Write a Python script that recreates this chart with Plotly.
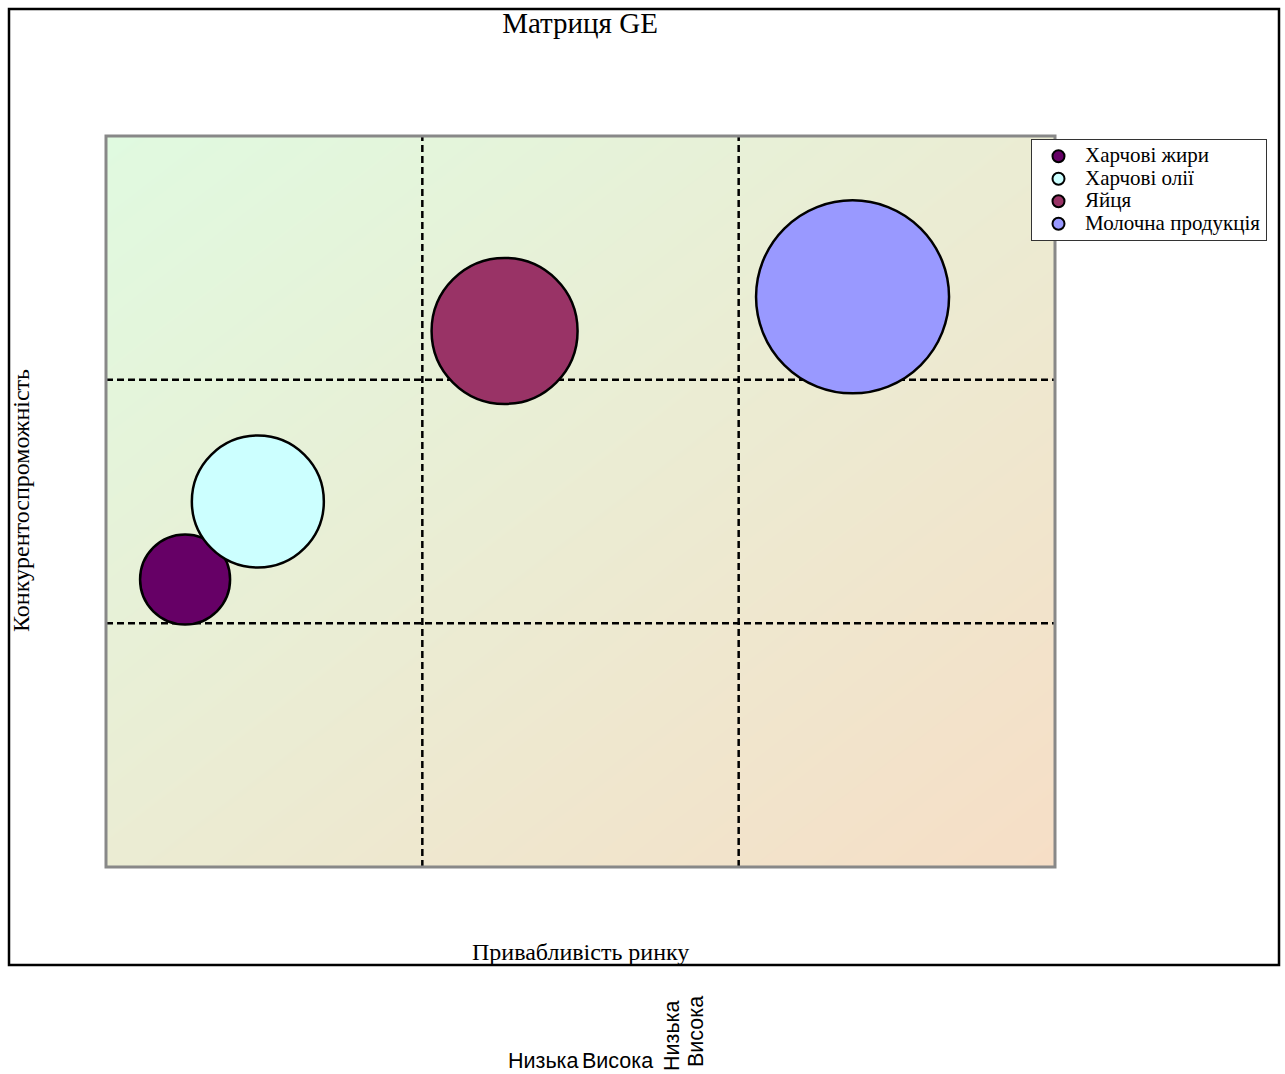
import numpy as np
import plotly.graph_objects as go

# ---- data -----------------------------------------------------------------
products = ["Харчові жири", "Харчові олії", "Яйця", "Молочна продукція"]
market_attractiveness = [0.25, 0.48, 1.26, 2.36]   # x: привабливість ринку
competitiveness = [1.18, 1.50, 2.20, 2.34]         # y: конкурентоспроможність
volume = [9.0, 13.2, 14.6, 19.3]                   # bubble size
colors = ["#660066", "#CCFFFF", "#993366", "#9999FF"]
level_labels = ["Низька", "Висока"]

# ---- page geometry (px) ---------------------------------------------------
W, H = 1285, 1074
L, R, T, B = 106, 230, 136, 207
PW, PH = W - L - R, H - T - B


def px_x(px):
    return (px - L) / PW


def px_y(py):
    return (H - B - py) / PH


fig = go.Figure()

# diagonal gradient background of the matrix
n = 41
gx = np.linspace(0, 3, n)
gy = np.linspace(0, 3, n)
gz = (gx[None, :] + (3 - gy[:, None])) / 6.0
fig.add_trace(go.Heatmap(
    x=gx, y=gy, z=gz, zmin=0, zmax=1, zsmooth="best",
    colorscale=[[0, "#E0FAE0"], [1, "#F6DEC6"]],
    showscale=False, hoverinfo="skip",
))

# dashed dividers of the 3x3 grid
grid_line = dict(color="black", width=2.5, dash="7px,4px")
for v in (1, 2):
    fig.add_trace(go.Scatter(x=[v, v], y=[0, 3], mode="lines", line=grid_line,
                             showlegend=False, hoverinfo="skip"))
    fig.add_trace(go.Scatter(x=[0, 3], y=[v, v], mode="lines", line=grid_line,
                             showlegend=False, hoverinfo="skip"))

# product bubbles
for name, xv, yv, s, c in zip(products, market_attractiveness, competitiveness, volume, colors):
    fig.add_trace(go.Scatter(
        x=[xv], y=[yv], mode="markers",
        name=f"<span style='font-size:21px'>{name}</span>",
        marker=dict(size=[s], sizemode="diameter", sizeref=0.1, color=c,
                    opacity=1, line=dict(color="black", width=2.5)),
    ))

serif = "Liberation Serif, Times New Roman, serif"
sans = "Liberation Sans, Arial, sans-serif"

fig.update_layout(
    width=W, height=H,
    margin=dict(l=L, r=R, t=T, b=B, pad=0),
    paper_bgcolor="white", plot_bgcolor="white",
    font=dict(family=serif, color="black"),
    title=dict(text="Матриця GE", x=px_x(580), xref="paper", xanchor="center",
               y=1 - 23 / H, yref="container", yanchor="middle",
               font=dict(family=serif, size=29, color="black")),
    xaxis=dict(range=[0, 3], showgrid=False, zeroline=False, showticklabels=False,
               ticks="", showline=False),
    yaxis=dict(range=[0, 3], showgrid=False, zeroline=False, showticklabels=False,
               ticks="", showline=False),
    legend=dict(x=px_x(1031), y=px_y(139), xanchor="left", yanchor="top",
                bgcolor="white", bordercolor="#333333", borderwidth=1,
                font=dict(family=serif, size=15, color="black"),
                itemsizing="constant", itemwidth=43, tracegroupgap=0),
    showlegend=True,
)

# grey frame of the matrix
fig.add_shape(type="rect", xref="paper", yref="paper", x0=0, x1=1, y0=0, y1=1,
              line=dict(color="#888888", width=3), fillcolor="rgba(0,0,0,0)",
              layer="above")

# outer frame
fig.add_shape(type="rect", xref="paper", yref="paper",
              x0=px_x(9), x1=px_x(1279), y0=px_y(965), y1=px_y(9),
              line=dict(color="black", width=2.5), fillcolor="rgba(0,0,0,0)", layer="above")

# axis titles
fig.add_annotation(text="Привабливість ринку", xref="paper", yref="paper",
                   x=px_x(580), y=px_y(952), xanchor="center", yanchor="middle",
                   showarrow=False, font=dict(family=serif, size=24, color="black"))
fig.add_annotation(text="Конкурентоспроможність", xref="paper", yref="paper",
                   x=px_x(21), y=px_y(501), xanchor="center", yanchor="middle",
                   textangle=-90, showarrow=False,
                   font=dict(family=serif, size=24, color="black"))

# level labels below the frame
lbl_font = dict(family=sans, size=21.5, color="black")
fig.add_annotation(text=level_labels[0], xref="paper", yref="paper",
                   x=px_x(580), y=px_y(1061), xanchor="right", yanchor="middle",
                   showarrow=False, font=lbl_font)
fig.add_annotation(text=level_labels[1], xref="paper", yref="paper",
                   x=px_x(580), y=px_y(1061), xanchor="left", yanchor="middle",
                   showarrow=False, font=lbl_font)
fig.add_annotation(text=level_labels[0], xref="paper", yref="paper",
                   x=px_x(672), y=px_y(1036), xanchor="center", yanchor="middle",
                   textangle=-90, showarrow=False, font=lbl_font)
fig.add_annotation(text=level_labels[1], xref="paper", yref="paper",
                   x=px_x(696), y=px_y(1032), xanchor="center", yanchor="middle",
                   textangle=-90, showarrow=False, font=lbl_font)

fig.write_html("out.html")
